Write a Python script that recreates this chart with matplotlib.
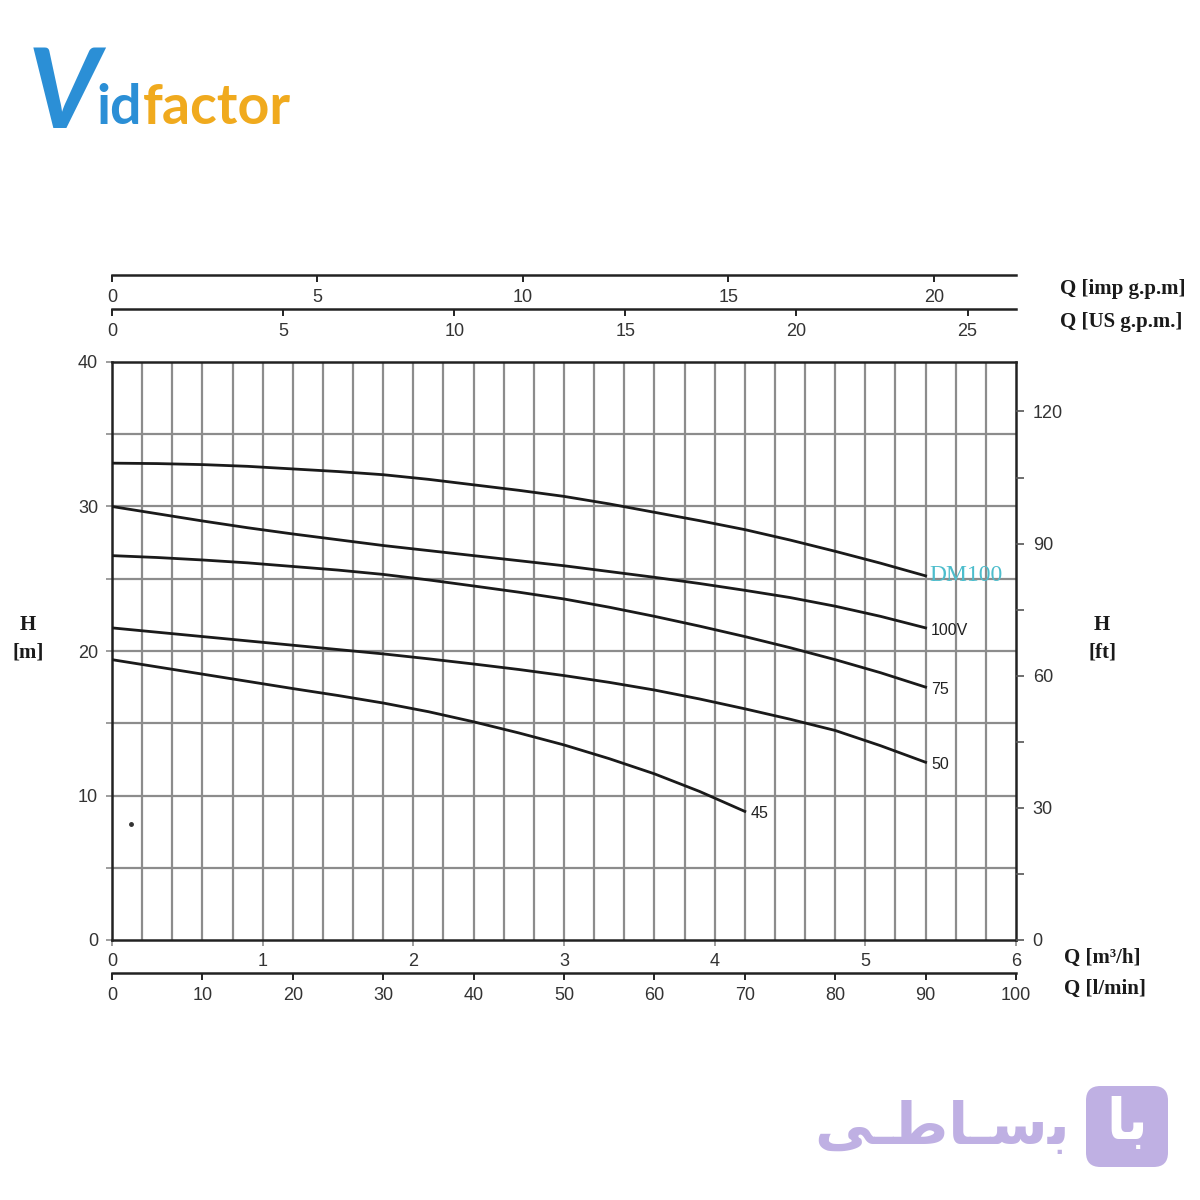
import matplotlib
matplotlib.use("Agg")
import matplotlib.pyplot as plt
import numpy as np
from matplotlib.patches import FancyBboxPatch

# Data: flow in l/min, head in m
q_pts = [0, 5, 10, 15, 20, 25, 30, 35, 40, 45, 50, 55, 60, 65, 70, 75, 80, 85, 90]
h_dm100 = [33.0, 32.97, 32.9, 32.78, 32.6, 32.42, 32.2, 31.88, 31.5, 31.12,
           30.7, 30.18, 29.6, 29.02, 28.4, 27.68, 26.9, 26.08, 25.2]
h_100v = [30.0, 29.5, 29.0, 28.53, 28.1, 27.7, 27.3, 26.95, 26.6, 26.25,
          25.9, 25.5, 25.1, 24.67, 24.2, 23.7, 23.1, 22.4, 21.6]
h_75 = [26.6, 26.47, 26.3, 26.1, 25.85, 25.6, 25.3, 24.92, 24.5, 24.07,
        23.6, 23.03, 22.4, 21.72, 21.0, 20.23, 19.4, 18.5, 17.5]
h_50 = [21.6, 21.3, 21.0, 20.7, 20.4, 20.1, 19.8, 19.46, 19.1, 18.72,
        18.3, 17.83, 17.3, 16.68, 16.0, 15.28, 14.5, 13.45, 12.3]
q_45 = [0, 5, 10, 15, 20, 25, 30, 35, 40, 45, 50, 55, 60, 65, 70]
h_45 = [19.4, 18.9, 18.4, 17.9, 17.4, 16.92, 16.4, 15.8, 15.1, 14.33,
        13.5, 12.55, 11.5, 10.28, 8.9]

curve_labels = ["100V", "75", "50", "45"]

m3h_ticks = [0, 1, 2, 3, 4, 5, 6]
lmin_ticks = [0, 10, 20, 30, 40, 50, 60, 70, 80, 90, 100]
imp_ticks = [0, 5, 10, 15, 20]
us_ticks = [0, 5, 10, 15, 20, 25]
hm_ticks = [0, 10, 20, 30, 40]
hft_ticks = [0, 30, 60, 90, 120]

IMP = 4.54609   # l/min per imp gpm
US = 3.78541    # l/min per US gpm
FT = 3.28084    # ft per m

W, H = 1200, 1200
fig = plt.figure(figsize=(12, 12), dpi=100)

def rect(x0, y0, x1, y1):
    return [x0 / W, 1 - y1 / H, (x1 - x0) / W, (y1 - y0) / H]

sans = ["Liberation Sans", "DejaVu Sans"]
serif = ["Liberation Serif", "DejaVu Serif"]
tick_col = "#333333"
grid_col = "#8c8c8c"

# Main chart
ax = fig.add_axes(rect(112, 362, 1016, 940))
ax.set_xlim(0, 100)
ax.set_ylim(0, 40)
for xv in np.arange(1, 30) * 100 / 30:
    ax.axvline(xv, color=grid_col, lw=1.6, zorder=1)
for yv in range(5, 40, 5):
    ax.axhline(yv, color=grid_col, lw=1.6, zorder=1)
for s in ax.spines.values():
    s.set_linewidth(1.8)
    s.set_color("#222222")

ax.set_yticks(range(0, 41, 5))
ax.set_yticklabels([str(v) if v % 10 == 0 else "" for v in range(0, 41, 5)],
                   family=sans, fontsize=13, color=tick_col)
ax.tick_params(axis="y", length=4, color=grid_col, width=1.2, pad=6)
ax.set_xticks([v * 100 / 6 for v in m3h_ticks])
ax.set_xticklabels([str(v) for v in m3h_ticks], family=sans, fontsize=13, color=tick_col)
ax.tick_params(axis="x", length=4, color=grid_col, width=1.2, pad=5)

curve_kw = dict(color="#1a1a1a", lw=2.0, zorder=3, solid_joinstyle="round")
ax.plot(q_pts, h_dm100, **curve_kw)
ax.plot(q_pts, h_100v, **curve_kw)
ax.plot(q_pts, h_75, **curve_kw)
ax.plot(q_pts, h_50, **curve_kw)
ax.plot(q_45, h_45, **curve_kw)
ax.plot([2.1], [8.0], "o", color="#333333", ms=2.5, zorder=3)

ax.text(q_pts[-1] + 0.4, h_dm100[-1], "DM100", family=serif, fontsize=17,
        color="#4dbdcc", va="center", ha="left", zorder=4)
ends = [(q_pts[-1], h_100v[-1]), (q_pts[-1], h_75[-1]), (q_pts[-1], h_50[-1]), (q_45[-1], h_45[-1])]
for (xe, ye), lab in zip(ends, curve_labels):
    ax.text(xe + 0.6, ye - 0.15, lab, family=sans, fontsize=11.5, color="#222222",
            va="center", ha="left", zorder=4)

# Right axis in ft
axr = ax.twinx()
axr.set_ylim(0, 40 * FT)
axr.set_yticks(hft_ticks)
axr.set_yticks(np.arange(15, 131, 30), minor=True)
axr.set_yticklabels([str(v) for v in hft_ticks], family=sans, fontsize=13, color=tick_col)
axr.tick_params(axis="y", which="both", length=6, color="#555555", width=1.2, pad=6)
for s in axr.spines.values():
    s.set_visible(False)

# Separate scale lines (line with ticks and labels underneath)
def scale_axis(y, xmax, ticks):
    a = fig.add_axes(rect(112, y - 1, 1016, y))
    a.set_xlim(0, xmax)
    a.set_yticks([])
    for k in ["top", "left", "right"]:
        a.spines[k].set_visible(False)
    a.spines["bottom"].set_linewidth(1.8)
    a.spines["bottom"].set_color("#222222")
    a.patch.set_alpha(0)
    a.set_xticks(ticks)
    a.set_xticklabels([str(t) for t in ticks], family=sans, fontsize=13, color=tick_col)
    a.tick_params(axis="x", length=5, width=1.4, color="#222222", pad=5)
    return a

scale_axis(275, 100 / IMP, imp_ticks)
scale_axis(309, 100 / US, us_ticks)
scale_axis(973, 100, lmin_ticks)

# Axis titles
lab_kw = dict(family=serif, fontsize=15, fontweight="bold", color="#1a1a1a", va="center", ha="left")
fig.text(1060 / W, 1 - 289 / H, "Q [imp g.p.m]", **lab_kw)
fig.text(1060 / W, 1 - 322 / H, "Q [US g.p.m.]", **lab_kw)
fig.text(1064 / W, 1 - 958 / H, "Q [m³/h]", **lab_kw)
fig.text(1064 / W, 1 - 989 / H, "Q [l/min]", **lab_kw)
ctr = dict(lab_kw, ha="center")
fig.text(28 / W, 1 - 625 / H, "H", **ctr)
fig.text(28 / W, 1 - 652 / H, "[m]", **ctr)
fig.text(1102 / W, 1 - 625 / H, "H", **ctr)
fig.text(1102 / W, 1 - 652 / H, "[ft]", **ctr)

# Vidfactor logo
fig.text(28 / W, 1 - 128 / H, "V", family=["Lato", "DejaVu Sans"], fontsize=80,
         fontweight="bold", style="italic", color="#2b8fd6", va="baseline")
fig.text(96 / W, 1 - 124 / H, "id", family=["Lato", "DejaVu Sans"], fontsize=40,
         fontweight="bold", color="#2b8fd6", va="baseline")
fig.text(143 / W, 1 - 124 / H, "factor", family=["Lato", "DejaVu Sans"], fontsize=40,
         fontweight="bold", color="#f0aa1e", va="baseline")

# Basalam-style badge (bottom right)
badge = FancyBboxPatch((1086 / W, 1 - 1167 / H), 82 / W, 81 / H,
                       boxstyle="round,pad=0,rounding_size=0.012",
                       transform=fig.transFigure, facecolor="#bfb0e3", edgecolor="none")
fig.patches.append(badge)
fig.text(1127 / W, 1 - 1124 / H, "\uFE8E\uFE91", family=["DejaVu Sans"], fontsize=40,
         fontweight="bold", color="white", ha="center", va="center")
fig.text(1070 / W, 1 - 1128 / H, "\uFEF0\u0640\uFEC3\uFE8E\u0640\uFEB3\uFE91",
         family=["DejaVu Sans"], fontsize=42, fontweight="bold", color="#bfb0e3",
         ha="right", va="center")

fig.savefig("out.png", dpi=100, facecolor="white")
